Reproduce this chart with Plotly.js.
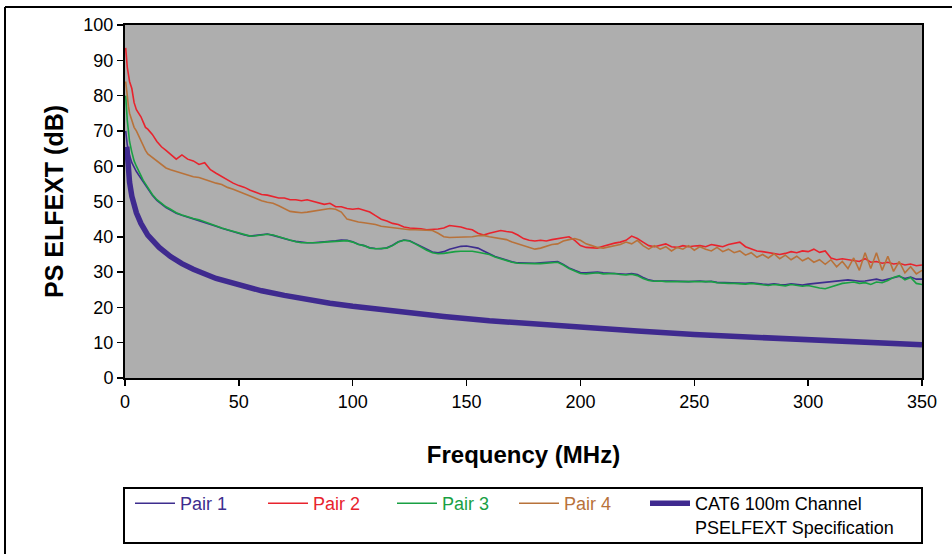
<!DOCTYPE html>
<html>
<head>
<meta charset="utf-8">
<script src="https://cdn.plot.ly/plotly-3.0.1.min.js"></script>
<style>
  html, body { margin: 0; padding: 0; background: #ffffff; }
  #chart { width: 952px; height: 554px; }
</style>
</head>
<body>
<div id="chart"></div>
<script>
// Frequency grid (MHz) shared by the four measured pairs
const freq = [0.3,0.5,1,1.5,2,3,4,5,6,7,8,9,10,12,14,16,18,20,
  22.5,25,27.5,30,32.5,35,37.5,40,42.5,45,47.5,50,
  52.5,55,57.5,60,62.5,65,67.5,70,72.5,75,77.5,80,82.5,85,87.5,90,92.5,95,97.5,100,
  102.5,105,107.5,110,112.5,115,117.5,120,122.5,125,127.5,130,132.5,135,137.5,140,142.5,145,147.5,150,
  152.5,155,157.5,160,162.5,165,167.5,170,172.5,175,177.5,180,182.5,185,187.5,190,192.5,195,197.5,200,
  202.5,205,207.5,210,212.5,215,217.5,220,222.5,225,227.5,230,232.5,235,237.5,240,242.5,245,247.5,250,
  252.5,255,257.5,260,262.5,265,267.5,270,272.5,275,277.5,280,282.5,285,287.5,290,292.5,295,297.5,300,
  302.5,305,307.5,310,312.5,315,317.5,320,322.5,325,327.5,330,332.5,335,337.5,340,342.5,345,347.5,350];

const pair1 = [70,68,66,64.5,63,61,59.5,58.5,57.5,56.5,55.5,54.5,53.5,51.8,50.3,49.3,48.3,47.6,
  46.7,46.1,45.6,45.1,44.7,44.1,43.5,43,42.4,41.9,41.4,40.9,
  40.5,40.2,40.4,40.6,40.8,40.4,39.9,39.4,39,38.7,38.4,38.3,38.3,38.4,38.6,38.7,38.9,39.1,39,38.6,
  37.9,37.5,36.9,36.7,36.6,36.9,37.6,38.6,39.1,38.9,38.1,37.1,36.3,35.7,35.5,35.8,36.5,37,37.3,37.4,
  37.2,36.8,36,35.2,34.4,33.9,33.3,32.9,32.6,32.5,32.5,32.5,32.6,32.8,33,33,32.2,31.2,30.5,29.9,
  29.8,29.9,30,29.8,29.7,29.8,29.5,29.4,29.6,29.3,28.5,27.8,27.5,27.6,27.5,27.5,27.4,27.4,27.3,27.4,
  27.5,27.3,27.4,27.1,27,27,27,26.9,26.8,27,26.7,26.6,26.5,26.7,26.5,26.4,26.7,26.5,26.3,26.6,
  26.8,26.8,27,27.2,27.4,27.6,27.8,27.6,27.4,27.5,27.8,28,27.6,28,28.5,28.8,28.2,28.6,28,28];

const pair2 = [93.5,91,88,86,84,82,78,76,75,74,72.5,71,70.5,69,67,65.5,64.5,63.5,
  62,63.2,62,61.5,60.5,61,59,58,57,56,55.2,54.5,
  54,53.2,52.5,52,51.8,51.5,51,51,50.5,50.5,50.2,50.5,50,49.5,49.2,49.5,48.5,48.5,48,47.8,
  48,47.5,47,46,45,44.5,43.8,43.5,42.8,42.5,42.5,42.3,42,42,42.2,42.5,43.2,43,42.8,42.3,
  42,41,40.5,41,41.5,41.8,41.5,41.3,40.5,39.5,39,38.8,39,38.8,39.2,39.5,39.8,40,39,37.5,
  37,37,36.8,37.3,37.8,38.2,38.5,39,40.2,39.5,38.5,37.5,37.2,37.5,38,37.2,37,37.5,37.2,37.4,
  37.5,37.2,37.8,37.5,37.2,37.8,38.2,38.5,37.2,36.5,36,35.8,35.5,35.2,35,35.3,35.8,35.5,36,35.8,
  36.5,35.6,36,34,33.5,33.8,33.5,33.2,33,33.8,32.8,33,32.5,32.8,32.3,32.5,32,32.3,31.8,32];

const pair3 = [80,77,73,70,67,64,61.5,60,58.5,57.2,56,55,54,52,50.5,49.5,48.5,47.8,
  46.8,46.2,45.6,45.2,44.8,44.2,43.5,43,42.5,42,41.5,41,
  40.5,40.2,40.3,40.5,40.7,40.5,40,39.5,39,38.6,38.3,38.3,38.2,38.3,38.5,38.6,38.8,39,38.9,38.5,
  37.8,37.5,36.8,36.6,36.6,36.8,37.5,38.5,39,38.8,38,37,36.2,35.5,35.2,35.3,35.6,35.8,35.9,36,
  35.9,35.6,35.3,35,34.3,33.8,33.2,32.8,32.5,32.4,32.4,32.4,32.4,32.6,32.8,32.8,32,31,30.3,29.6,
  29.5,29.6,29.8,29.5,29.5,29.6,29.3,29.2,29.4,29,28.2,27.6,27.4,27.5,27.3,27.3,27.3,27.2,27.2,27.3,
  27.4,27.2,27.3,27,26.8,26.8,26.8,26.7,26.6,26.8,26.5,26.4,26.2,26.5,26.3,26.1,26.5,26.3,26,26.2,
  25.8,25.5,25.3,25.8,26.5,26.8,27,27.2,26.8,27,26.5,27.2,27,27.6,28.5,29,27.8,28.5,26.8,26.5];

const pair4 = [84,82,80,77,75,73,71,70,68.5,67,65.8,64.5,63.5,62.5,61.5,60.5,59.5,59,
  58.5,58.2,57.5,57,56.8,56.2,55.8,55.2,54.8,54,53.5,52.8,
  52.2,51.5,50.8,50.2,49.8,49.5,48.8,48,47.2,47,46.8,47,47.2,47.5,47.8,48,47.8,47,45,44.5,
  44.2,44,43.8,43.5,43,42.8,42.5,42.3,42,42,42,42,41.8,41.8,41,40,39.8,39.8,39.9,40,
  40,40.3,40.4,40,39.8,39.5,39.2,38.5,38,37.5,36.8,36.5,36.8,37.3,37.8,38,38.8,39.2,39.5,39,
  38,37.5,37,36.8,37.2,37.5,37.8,38.5,38,39,37.5,36.5,37.5,36.5,37.2,36,37,36.5,37.5,36.2,
  37.2,36.5,36,37,35.8,36.5,35.5,36,34.8,35.5,34.2,35,34,35.2,33.8,34.8,33.5,34.5,33.2,34,
  32.8,33.5,32.2,33.5,31.5,33,31,34,30.5,35.5,31,35.5,30.5,34.5,30.2,33,29.8,31.5,29.5,30.5];

// CAT6 100m channel PSELFEXT specification
const specFreq = [0.8,1,1.5,2,3,4,5,7,10,15,20,25,30,40,50,60,70,80,90,100,120,140,160,180,200,225,250,275,300,325,350];
const specVal  = [65.5,62.5,58.5,55.5,51.5,48.8,46.8,43.8,40.5,37,34.4,32.4,30.8,28.2,26.3,24.7,23.4,22.2,21.2,20.3,18.7,17.4,16.2,15.2,14.3,13.3,12.3,11.5,10.8,10.1,9.4];

const names = ['Pair 1','Pair 2','Pair 3','Pair 4','CAT6 100m Channel<br>PSELFEXT Specification'];
const colors = ['#3d2d8e','#e8232d','#19a043','#b8723a','#3f2a8f'];

const xTicks = [0,50,100,150,200,250,300,350];
const yTicks = [0,10,20,30,40,50,60,70,80,90,100];

function lbl(i) {
  const c = i === 4 ? '#000000' : colors[i];
  return '<span style="color:' + c + '">' + names[i] + '</span>';
}

const legendIds = ['legend','legend2','legend3','legend4','legend5'];
const series = [pair1, pair2, pair3, pair4];
const traces = series.map((ys, i) => ({
  x: freq, y: ys, type: 'scatter', mode: 'lines',
  name: lbl(i), legend: legendIds[i], line: {color: colors[i], width: 1.6}
}));
traces.push({
  x: specFreq, y: specVal, type: 'scatter', mode: 'lines',
  name: lbl(4), legend: legendIds[4], line: {color: colors[4], width: 5.5}
});

const font = 'Liberation Sans, Arial, sans-serif';
const plotW = 952 - 125 - 30, plotH = 554 - 25 - 176;
const px = a => (a - 125) / plotW;
const py = b => (378 - b) / plotH;

function legendAt(left) {
  return {
    orientation: 'v', x: px(left), xanchor: 'left', y: py(485), yanchor: 'top',
    bgcolor: 'rgba(0,0,0,0)', borderwidth: 0,
    font: {family: font, size: 18},
    itemwidth: 40, valign: 'top'
  };
}

const layout = {
  width: 952, height: 554,
  margin: {l: 125, r: 30, t: 25, b: 176, autoexpand: false},
  paper_bgcolor: '#ffffff',
  plot_bgcolor: '#aeaeae',
  font: {family: font, color: '#000000', size: 18},
  showlegend: true,
  xaxis: {
    range: [0, 350], tickvals: xTicks, ticktext: xTicks.map(String),
    showgrid: false, zeroline: false,
    showline: true, linecolor: '#000000', linewidth: 2, mirror: true,
    ticks: 'outside', ticklen: 6, tickwidth: 1.5, tickcolor: '#000000',
    tickfont: {family: font, size: 18},
    title: {text: '<b>Frequency (MHz)</b>', font: {family: font, size: 24}, standoff: 36}
  },
  yaxis: {
    range: [0, 100], tickvals: yTicks, ticktext: yTicks.map(String),
    showgrid: false, zeroline: false,
    showline: true, linecolor: '#000000', linewidth: 2, mirror: true,
    ticks: 'outside', ticklen: 6, tickwidth: 1.5, tickcolor: '#000000',
    tickfont: {family: font, size: 18},
    title: {text: '<b>PS ELFEXT (dB)</b>', font: {family: font, size: 25}, standoff: 13}
  },
  legend: legendAt(130),
  legend2: legendAt(263),
  legend3: legendAt(392),
  legend4: legendAt(514),
  legend5: legendAt(645),
  shapes: [
    {type: 'rect', xref: 'paper', yref: 'paper',
     x0: px(124), x1: px(922), y0: py(543), y1: py(488),
     line: {color: '#000000', width: 2}, fillcolor: 'rgba(0,0,0,0)'},
    {type: 'line', xref: 'paper', yref: 'paper',
     x0: px(5), x1: px(5), y0: py(560), y1: py(7), line: {color: '#000000', width: 2}},
    {type: 'line', xref: 'paper', yref: 'paper',
     x0: px(5), x1: px(960), y0: py(7), y1: py(7), line: {color: '#000000', width: 2}}
  ]
};

Plotly.newPlot('chart', traces, layout, {displayModeBar: false, staticPlot: true});
</script>
</body>
</html>
